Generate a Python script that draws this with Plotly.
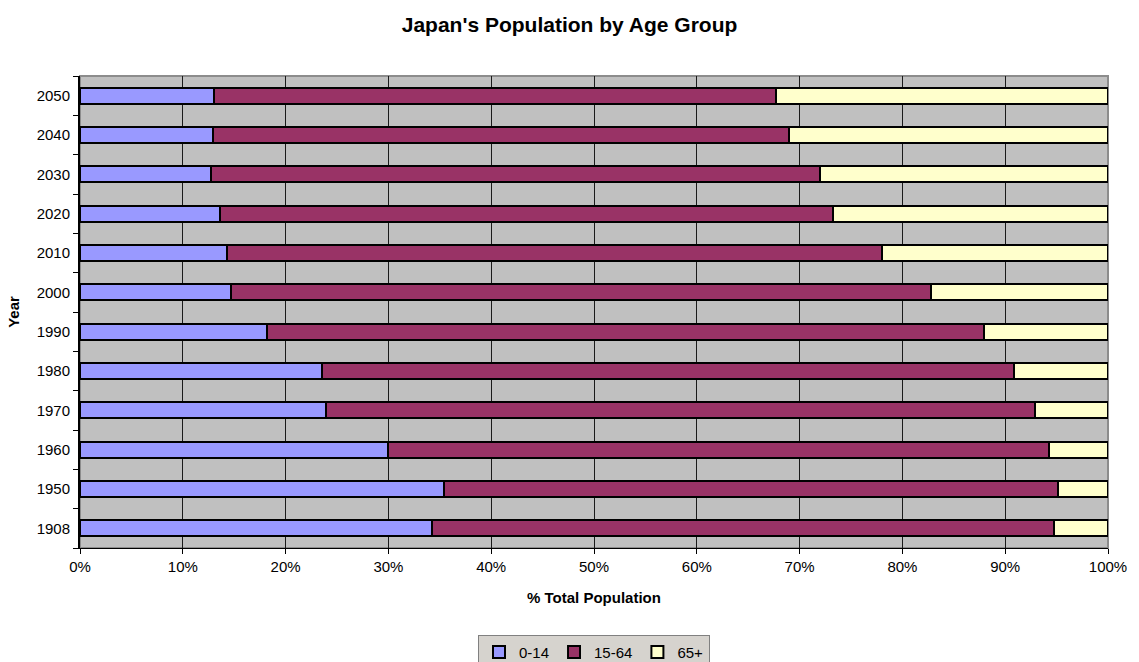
import plotly.graph_objects as go

# Share of Japan's population in each age band, by year (percent of total)
years = ["1908", "1950", "1960", "1970", "1980", "1990",
         "2000", "2010", "2020", "2030", "2040", "2050"]
age_0_14 = [34.2, 35.4, 30.0, 23.9, 23.5, 18.2, 14.7, 14.3, 13.6, 12.7, 12.9, 13.0]
age_15_64 = [60.5, 59.7, 64.3, 69.0, 67.4, 69.7, 68.1, 63.7, 59.6, 59.3, 56.1, 54.7]
age_65_plus = [5.3, 4.9, 5.7, 7.1, 9.1, 12.1, 17.2, 22.0, 26.8, 28.0, 31.0, 32.3]

series = [
    ("0-14", age_0_14, "#9999FF"),
    ("15-64", age_15_64, "#993366"),
    ("65+", age_65_plus, "#FFFFCC"),
]

x_ticks = list(range(0, 101, 10))
x_tick_text = [f"{v}%" for v in x_ticks]

font_family = "Liberation Sans, Arial, sans-serif"

fig = go.Figure()
for name, values, color in series:
    fig.add_trace(go.Bar(
        y=years, x=values, name=name, orientation="h",
        marker=dict(color=color, line=dict(color="#000000", width=2)),
        hovertemplate="%{y}: %{x:.1f}%<extra>" + name + "</extra>",
    ))

# grey frame around the plotting area (top and right edges)
fig.add_shape(type="rect", xref="paper", yref="paper",
              x0=0, x1=1, y0=0, y1=1,
              line=dict(color="#8c8c8c", width=2), layer="below")

fig.update_layout(
    width=1139, height=662,
    margin=dict(l=80, r=31, t=76, b=114, autoexpand=False),
    paper_bgcolor="#FFFFFF",
    plot_bgcolor="#C0C0C0",
    barmode="stack",
    bargap=0.6,
    font=dict(family=font_family, size=15, color="#000000"),
    title=dict(text="<b>Japan's Population by Age Group</b>",
               x=0.5, xanchor="center", xref="container",
               y=1 - 25 / 662, yanchor="middle", yref="container",
               font=dict(size=21, family=font_family, color="#000000")),
    showlegend=True,
    legend=dict(orientation="h", x=0.5, xanchor="center",
                y=-0.184, yanchor="top",
                bgcolor="#D6D3CE", bordercolor="#808080", borderwidth=1,
                font=dict(size=15, family=font_family),
                itemwidth=30,
                itemclick=False, itemdoubleclick=False,
                traceorder="normal"),
)

fig.update_xaxes(
    range=[0, 100], tickvals=x_ticks, ticktext=x_tick_text,
    showgrid=True, gridcolor="#1a1a1a", gridwidth=1,
    zeroline=False,
    showline=True, linecolor="#000000", linewidth=1,
    ticks="outside", ticklen=5, tickcolor="#000000",
    tickfont=dict(size=15),
    title=dict(text="<b>% Total Population</b>", font=dict(size=15), standoff=18),
    automargin=False, fixedrange=True,
)
fig.update_yaxes(
    type="category", categoryorder="array", categoryarray=years,
    showgrid=False, zeroline=False,
    showline=True, linecolor="#000000", linewidth=2,
    ticks="outside", ticklen=5, tickcolor="#000000", tickson="boundaries",
    tickfont=dict(size=15), ticklabelstandoff=5,
    title=dict(text="<b>Year</b>", font=dict(size=15), standoff=13),
    automargin=False, fixedrange=True,
)

fig.write_html("out.html", config={"displayModeBar": False})
